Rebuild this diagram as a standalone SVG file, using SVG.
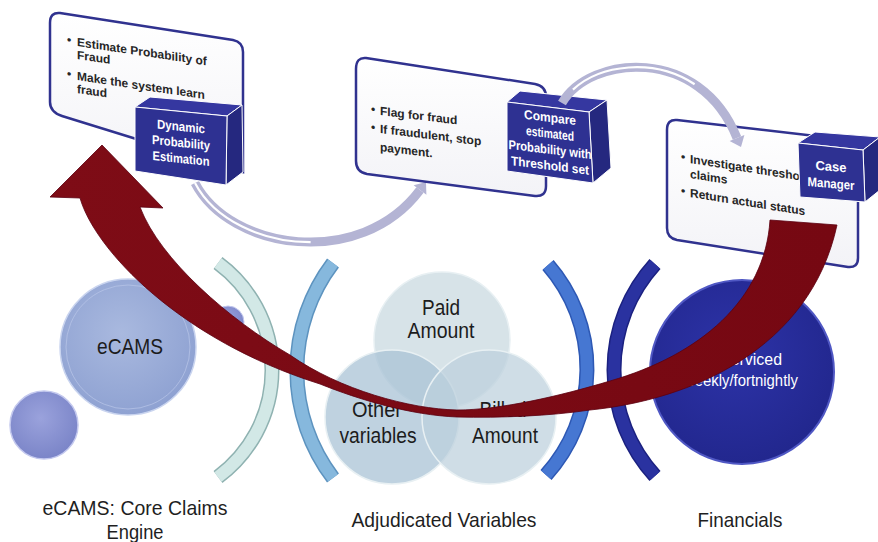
<svg xmlns="http://www.w3.org/2000/svg" width="878" height="542" viewBox="0 0 878 542">
  <defs>
    <linearGradient id="cardFill" x1="0" y1="0" x2="0" y2="1">
      <stop offset="0" stop-color="#ffffff"/>
      <stop offset="1" stop-color="#f3f3f7"/>
    </linearGradient>
    <radialGradient id="ecamsFill" cx="0.45" cy="0.4" r="0.6">
      <stop offset="0" stop-color="#a9b9df"/>
      <stop offset="1" stop-color="#8fa2d2"/>
    </radialGradient>
    <radialGradient id="bubbleFill" cx="0.45" cy="0.4" r="0.6">
      <stop offset="0" stop-color="#9aa2dc"/>
      <stop offset="1" stop-color="#7b85c8"/>
    </radialGradient>
    <radialGradient id="navyFill" cx="0.45" cy="0.4" r="0.6">
      <stop offset="0" stop-color="#2d33a8"/>
      <stop offset="1" stop-color="#22278e"/>
    </radialGradient>
    <linearGradient id="redFill" x1="0" y1="0" x2="1" y2="0">
      <stop offset="0" stop-color="#7e0c16"/>
      <stop offset="1" stop-color="#760812"/>
    </linearGradient>
  </defs>
  <style>
    .card { fill: url(#cardFill); stroke: #30328f; stroke-width: 2.5; }
    .front { fill: #2e3192; stroke: #ffffff; stroke-width: 1; }
    .top { fill: #3537a0; stroke: #ffffff; stroke-width: 1; }
    .side { fill: #25287f; stroke: #ffffff; stroke-width: 1; }
    .bullet { font-family: "Liberation Sans", Arial, sans-serif; font-weight: bold; font-size: 12px; fill: #262626; }
    .boxlabel { font-family: "Liberation Sans", Arial, sans-serif; font-weight: bold; font-size: 13px; fill: #ffffff; text-anchor: middle; }
    .circ { font-family: "Liberation Sans", Arial, sans-serif; font-size: 22px; fill: #1c1c1c; text-anchor: middle; }
    .circw { font-family: "Liberation Sans", Arial, sans-serif; font-size: 17px; fill: #ffffff; text-anchor: middle; }
    .caption { font-family: "Liberation Sans", Arial, sans-serif; font-size: 21px; fill: #1f1f1f; text-anchor: middle; }
    .flow { fill: none; stroke: #b4b4d4; stroke-width: 9; stroke-linecap: butt; }
    .flowline { fill: none; stroke: #ffffff; stroke-width: 2.2; }
    .venn { stroke: #e8f0f3; stroke-width: 1.5; }
  </style>

  <!-- step 1: dynamic probability estimation -->
  <g id="step-estimate">
    <path class="card" d="M60,13 L233,40 Q243,42 243,52 L243,172 L62,116 Q50,112 50,102 L50,23 Q50,12 60,13 Z"/>
    <g transform="translate(77,46) skewY(8.5)">
      <text class="bullet" x="-10" y="-1">•</text>
      <text class="bullet" x="0" y="0">Estimate Probability of</text>
      <text class="bullet" x="0" y="13">Fraud</text>
      <text class="bullet" x="-10" y="33">•</text>
      <text class="bullet" x="0" y="34">Make the system  learn</text>
      <text class="bullet" x="0" y="47">fraud</text>
    </g>
  </g>

  <!-- curved flow arrows between steps -->
  <g id="flow-arrows">
    <path class="flow" d="M195,183 C230,250 360,270 420,190"/>
    <path class="flowline" d="M195,183 C230,250 360,270 420,190" pathLength="100" stroke-dasharray="52 100"/>
    <polygon points="426,182 426.4,194.8 413.6,185.2" fill="#b4b4d4"/>
  </g>

  <g id="step-estimate-box">
    <polygon class="top" points="135,107 150,97 242,105 227,116"/>
    <polygon class="side" points="227,116 242,105 243,172 226,185"/>
    <polygon class="front" points="135,107 227,116 226,185 135,171"/>
    <g transform="translate(181,131) skewY(6)">
      <text class="boxlabel" x="0" y="0" textLength="48" lengthAdjust="spacingAndGlyphs">Dynamic</text>
      <text class="boxlabel" x="0" y="16" textLength="58" lengthAdjust="spacingAndGlyphs">Probability</text>
      <text class="boxlabel" x="0" y="32" textLength="57" lengthAdjust="spacingAndGlyphs">Estimation</text>
    </g>
  </g>

  <!-- step 2: compare with threshold -->
  <g id="step-compare">
    <path class="card" d="M366,58 L535,84 Q546,86 546,97 L546,186 Q546,197 535,196 L367,174 Q356,172 356,161 L356,69 Q356,57 366,58 Z"/>
    <g transform="translate(380,115) skewY(7)">
      <text class="bullet" x="-9" y="-1">•</text>
      <text class="bullet" x="0" y="0">Flag for fraud</text>
      <text class="bullet" x="-9" y="17">•</text>
      <text class="bullet" x="0" y="18">If fraudulent, stop</text>
      <text class="bullet" x="0" y="36">payment.</text>
    </g>
    <polygon class="top" points="507,102 520,91 607,100 589,112"/>
    <polygon class="side" points="589,112 607,100 611,168 593,183"/>
    <polygon class="front" points="507,102 589,112 593,183 507,171"/>
    <g transform="translate(550,122) skewY(7)">
      <text class="boxlabel" x="0" y="0" textLength="52" lengthAdjust="spacingAndGlyphs">Compare</text>
      <text class="boxlabel" x="0" y="16" textLength="48" lengthAdjust="spacingAndGlyphs">estimated</text>
      <text class="boxlabel" x="0" y="32" textLength="83" lengthAdjust="spacingAndGlyphs">Probability with</text>
      <text class="boxlabel" x="0" y="48" textLength="78" lengthAdjust="spacingAndGlyphs">Threshold set</text>
    </g>
  </g>

  <!-- step 3: case manager -->
  <g id="step-case-manager">
    <path class="card" d="M677,120 L850,140 Q858,141 858,150 L858,258 Q858,268 848,267 L677,240 Q667,238 667,228 L667,130 Q667,119 677,120 Z"/>
    <g transform="translate(690,163) skewY(9)">
      <text class="bullet" x="-9" y="-1">•</text>
      <text class="bullet" x="0" y="0">Investigate threshold</text>
      <text class="bullet" x="0" y="15">claims</text>
      <text class="bullet" x="-9" y="33">•</text>
      <text class="bullet" x="0" y="34">Return actual status</text>
    </g>
    <polygon class="top" points="798,143 815,132 880,137 863,150"/>
    <polygon class="side" points="863,150 880,137 880,190 865,202"/>
    <polygon class="front" points="798,143 863,150 865,202 800,197"/>
    <g transform="translate(831,171) skewY(5)">
      <text class="boxlabel" x="0" y="0">Case</text>
      <text class="boxlabel" x="0" y="17" textLength="47" lengthAdjust="spacingAndGlyphs">Manager</text>
    </g>
  </g>

  <g id="flow-arrow-2">
    <path class="flow" d="M562,103 C590,55 700,45 737,138"/>
    <path class="flowline" d="M562,103 C590,55 700,45 737,138" pathLength="100" stroke-dasharray="0 8 60 100"/>
    <polygon points="741,147 744.4,135 729.6,141" fill="#b4b4d4"/>
  </g>

  <!-- core claims engine -->
  <g id="ecams">
    <circle cx="44" cy="425" r="34" fill="url(#bubbleFill)" stroke="#c3c8ee" stroke-width="1.5"/>
    <circle cx="128" cy="347" r="68" fill="url(#ecamsFill)" stroke="#c9d4ef" stroke-width="1.5"/>
    <circle cx="128" cy="347" r="62" fill="none" stroke="#b9c6e8" stroke-width="1" stroke-opacity="0.7"/>
    <circle cx="228" cy="322" r="16" fill="url(#bubbleFill)" stroke="#c3c8ee" stroke-width="1"/>
    <text class="circ" x="130" y="354" font-size="21" textLength="66" lengthAdjust="spacingAndGlyphs">eCAMS</text>
  </g>

  <!-- bracket arcs separating the stages -->
  <g id="brackets" fill="none" stroke-linecap="butt">
    <path d="M218,263 A133,133 0 0 1 218,477" stroke="#8fb2b1" stroke-width="15"/>
    <path d="M218,263 A133,133 0 0 1 218,477" stroke="#d2e8e6" stroke-width="12"/>
    <path d="M333,263 A178,178 0 0 0 333,478" stroke="#5d93bf" stroke-width="15"/>
    <path d="M333,263 A178,178 0 0 0 333,478" stroke="#86b8dd" stroke-width="12"/>
    <path d="M548,265 A158,158 0 0 1 546,475" stroke="#2d58b4" stroke-width="15"/>
    <path d="M548,265 A158,158 0 0 1 546,475" stroke="#4677d2" stroke-width="12"/>
    <path d="M655,264 A157.5,157.5 0 0 0 655,476" stroke="#1b2180" stroke-width="15"/>
    <path d="M655,264 A157.5,157.5 0 0 0 655,476" stroke="#2a32a0" stroke-width="12"/>
  </g>

  <!-- adjudicated variables -->
  <g id="adjudicated">
    <circle class="venn" cx="442" cy="340" r="68" fill="#d0dee4" fill-opacity="0.85"/>
    <circle class="venn" cx="392" cy="417" r="67" fill="#a9c3d5" fill-opacity="0.75"/>
    <circle class="venn" cx="489" cy="417" r="67" fill="#bcd0dc" fill-opacity="0.72"/>
    <text class="circ" x="441" y="315" textLength="38" lengthAdjust="spacingAndGlyphs">Paid</text>
    <text class="circ" x="441" y="338" textLength="67" lengthAdjust="spacingAndGlyphs">Amount</text>
    <text class="circ" x="377" y="417" textLength="50" lengthAdjust="spacingAndGlyphs">Other</text>
    <text class="circ" x="378" y="443" textLength="77" lengthAdjust="spacingAndGlyphs">variables</text>
    <text class="circ" x="503" y="417" textLength="47" lengthAdjust="spacingAndGlyphs">Billed</text>
    <text class="circ" x="505" y="443" textLength="66" lengthAdjust="spacingAndGlyphs">Amount</text>
  </g>

  <!-- financials -->
  <g id="financials">
    <circle cx="742" cy="372" r="92" fill="url(#navyFill)" stroke="#5058c4" stroke-width="2"/>
    <text class="circw" x="751" y="365" textLength="62" lengthAdjust="spacingAndGlyphs">Serviced</text>
    <text class="circw" x="741" y="386" textLength="114" lengthAdjust="spacingAndGlyphs">weekly/fortnightly</text>
  </g>

  <!-- feedback arrow: case outcome back to estimation -->
  <g id="feedback-arrow">
    <path d="M770,220 L837,225 C810,350 690,400 590,410 C550,416 500,418 457,417 C410,415 360,400 320,384 C180,340 95,250 80,198 L50,197 L102,145 L163,208 L140,207 C160,260 230,320 290,355 C340,390 410,409 457,410 C500,410 560,396 610,381 C700,355 765,300 770,220 Z" fill="url(#redFill)" stroke="#5c0010" stroke-width="0.8"/>
  </g>

  <!-- stage captions -->
  <g id="captions">
    <text class="caption" x="135" y="515" font-size="20" textLength="185" lengthAdjust="spacingAndGlyphs">eCAMS: Core Claims</text>
    <text class="caption" x="135" y="539" font-size="20" textLength="57" lengthAdjust="spacingAndGlyphs">Engine</text>
    <text class="caption" x="444" y="527" textLength="185" lengthAdjust="spacingAndGlyphs">Adjudicated Variables</text>
    <text class="caption" x="740" y="527" textLength="85" lengthAdjust="spacingAndGlyphs">Financials</text>
  </g>
</svg>
